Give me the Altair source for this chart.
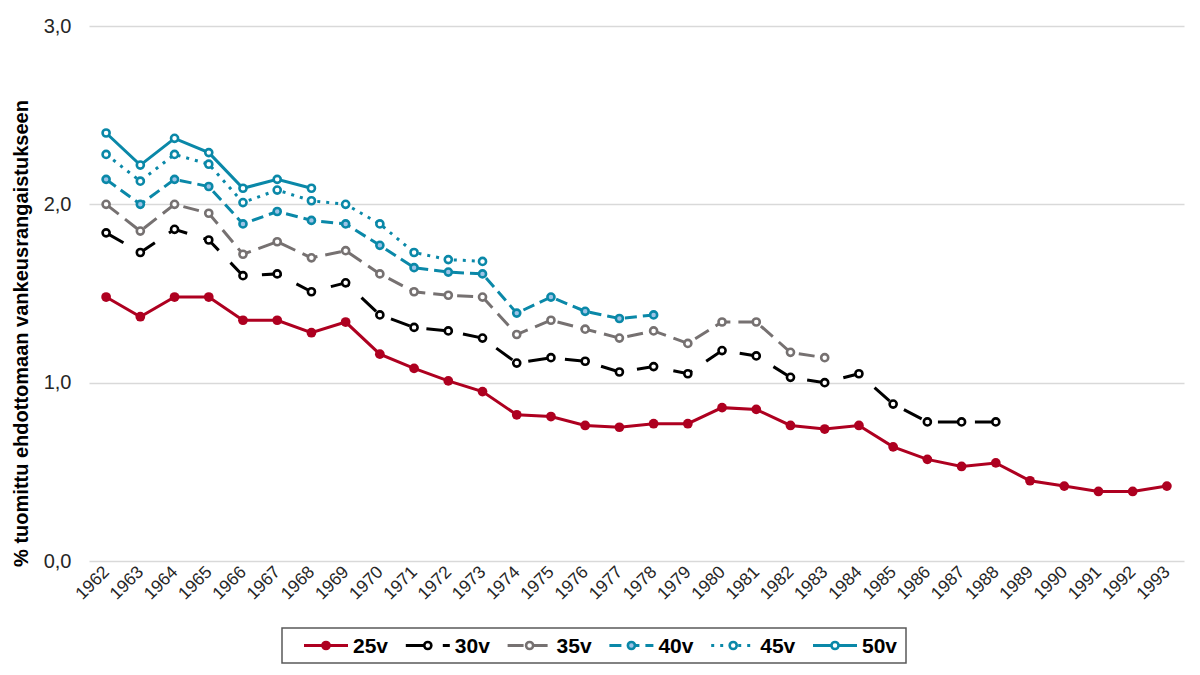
import altair as alt
import pandas as pd

years = list(range(1962, 1994))

v25 = [1.48, 1.37, 1.48, 1.48, 1.35, 1.35, 1.28, 1.34, 1.16, 1.08, 1.01, 0.95,
       0.82, 0.81, 0.76, 0.75, 0.77, 0.77, 0.86, 0.85, 0.76, 0.74, 0.76, 0.64,
       0.57, 0.53, 0.55, 0.45, 0.42, 0.39, 0.39, 0.42]
v30 = [1.84, 1.73, 1.86, 1.80, 1.60, 1.61, 1.51, 1.56, 1.38, 1.31, 1.29, 1.25,
       1.11, 1.14, 1.12, 1.06, 1.09, 1.05, 1.18, 1.15, 1.03, 1.00, 1.05, 0.88,
       0.78, 0.78, 0.78]
v35 = [2.00, 1.85, 2.00, 1.95, 1.72, 1.79, 1.70, 1.74, 1.61, 1.51, 1.49, 1.48,
       1.27, 1.35, 1.30, 1.25, 1.29, 1.22, 1.34, 1.34, 1.17, 1.14]
v40 = [2.14, 2.00, 2.14, 2.10, 1.89, 1.96, 1.91, 1.89, 1.77, 1.645, 1.62, 1.61,
       1.39, 1.48, 1.40, 1.36, 1.38]
v45 = [2.28, 2.13, 2.28, 2.225, 2.01, 2.08, 2.02, 2.00, 1.89, 1.73, 1.69, 1.68]
v50 = [2.40, 2.22, 2.37, 2.29, 2.09, 2.14, 2.09]

series_names = ["25v", "30v", "35v", "40v", "45v", "50v"]
series_values = [v25, v30, v35, v40, v45, v50]

colors = ["#AE0020", "#000000", "#767171", "#0A88A8", "#0A88A8", "#0A88A8"]
fills = ["#AE0020", "#FFFFFF", "#FFFFFF", "#9DC3E6", "#FFFFFF", "#FFFFFF"]
dashes = [[1, 0], [20, 17], [16, 8], [12, 6], [3, 6], [1, 0]]

rows = []
for name, vals in zip(series_names, series_values):
    for y, v in zip(years, vals):
        rows.append({"year": y, "series": name, "value": v})
df = pd.DataFrame(rows)

FONT = "Liberation Sans"
PW, PH = 1095, 535

x_enc = alt.X(
    "year:O",
    scale=alt.Scale(padding=0.5),
    axis=alt.Axis(
        title=None, labelAngle=-45, labelAlign="right", labelBaseline="middle",
        labelFontSize=17.5, labelColor="#262626", labelPadding=8,
        domain=False, ticks=False, grid=False, labelFont=FONT,
    ),
)
y_enc = alt.Y(
    "value:Q",
    scale=alt.Scale(domain=[0, 3], nice=False),
    axis=alt.Axis(
        values=[0, 1, 2, 3],
        labelExpr="replace(format(datum.value, '.1f'), '.', ',')",
        labelFontSize=20, labelColor="#262626", labelPadding=18, labelFont=FONT,
        domain=False, ticks=False, grid=True, gridColor="#D9D9D9", gridWidth=1.3,
        title="% tuomittu ehdottomaan vankeusrangaistukseen",
        titleFontSize=20, titleFontWeight="bold", titleColor="#000000",
        titleFont=FONT, titlePadding=12, titleY=307,
    ),
)


def marker(base, name, col, fil):
    if name == "25v":
        return base.mark_point(filled=True, color=col, size=95, opacity=1)
    return base.mark_point(filled=False, stroke=col, fill=fil, strokeWidth=2.6,
                           size=50, opacity=1, fillOpacity=1)


layers = []
for name, col, fil, dsh in zip(series_names, colors, fills, dashes):
    base = alt.Chart(df).transform_filter(alt.datum.series == name)
    line_kwargs = dict(color=col, strokeWidth=3)
    if dsh != [1, 0]:
        line_kwargs["strokeDash"] = dsh
    layers.append(base.mark_line(**line_kwargs).encode(x=x_enc, y=y_enc))
    layers.append(marker(base, name, col, fil).encode(x=x_enc, y=y_enc))

main = alt.layer(*layers).properties(width=PW, height=PH)

# custom legend (box placed under the plot, same width as plot)
BOX_L, BOX_W, BOX_H = 193, 624, 35
leg_df = pd.DataFrame({"label": series_names, "i": list(range(len(series_names)))})
lx = alt.Scale(domain=[0, PW], nice=False, zero=False)
LH = BOX_H / 2
start = f"{BOX_L + 22} + datum.i * 101.8"

box = alt.Chart(leg_df).mark_rect(fill="white", stroke="#595959", strokeWidth=1.5).encode(
    x=alt.value(BOX_L), x2=alt.value(BOX_L + BOX_W), y=alt.value(0), y2=alt.value(BOX_H)
).transform_filter(alt.datum.i == 0)

leg_layers = [box]
for name, col, fil, dsh in zip(series_names, colors, fills, dashes):
    b = alt.Chart(leg_df).transform_filter(alt.datum.label == name).transform_calculate(
        x1=start, x2=f"{start} + 44", xc=f"{start} + 22",
    )
    rk = dict(color=col, strokeWidth=3)
    if dsh != [1, 0]:
        rk["strokeDash"] = dsh
    leg_layers.append(b.mark_rule(**rk).encode(
        x=alt.X("x1:Q", scale=lx, axis=None), x2="x2:Q", y=alt.value(LH)))
    leg_layers.append(marker(b, name, col, fil).encode(
        x=alt.X("xc:Q", scale=lx, axis=None), y=alt.value(LH)))

txt = alt.Chart(leg_df).transform_calculate(xt=f"{start} + 49").mark_text(
    align="left", baseline="middle", fontSize=21, fontWeight="bold", font=FONT,
    color="#000000",
).encode(x=alt.X("xt:Q", scale=lx, axis=None), y=alt.value(LH + 1), text="label:N")
leg_layers.append(txt)

legend = alt.layer(*leg_layers).properties(width=PW, height=BOX_H)

chart = alt.vconcat(main, legend, spacing=24).properties(
    padding={"left": 3, "top": 8, "right": 5, "bottom": 5},
).configure(font=FONT).configure_view(stroke=None)

chart.save("out.html", embed_options={"renderer": "svg", "actions": False})
